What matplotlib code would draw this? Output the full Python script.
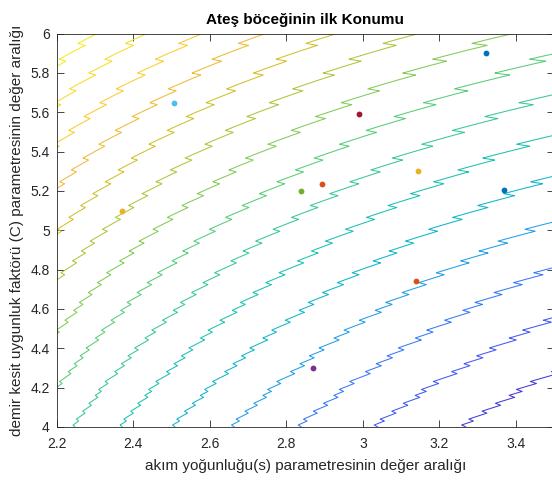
import numpy as np
import matplotlib.pyplot as plt
from matplotlib.colors import LinearSegmentedColormap, Normalize
from matplotlib.ticker import FormatStrFormatter

plt.rcParams['font.family'] = ['Liberation Sans', 'DejaVu Sans']

# parula renk haritasi (MATLAB varsayilani)
parula_rgb = [
    (0.2422, 0.1504, 0.6603), (0.2803, 0.2782, 0.9221), (0.2440, 0.4358, 0.9988),
    (0.1380, 0.6276, 0.8973), (0.0433, 0.7411, 0.7394), (0.1938, 0.7758, 0.6251),
    (0.3406, 0.8008, 0.4789), (0.5616, 0.7942, 0.3045), (0.7738, 0.7598, 0.1646),
    (0.9393, 0.7288, 0.2100), (0.9892, 0.8136, 0.1885), (0.9610, 0.8890, 0.1537),
    (0.9769, 0.9839, 0.0805),
]
parula = LinearSegmentedColormap.from_list('parula', parula_rgb)

# MATLAB varsayilan renk sirasi
renkler = ['#0072BD', '#D95319', '#EDB120', '#7E2F8E', '#77AC30', '#4DBEEE', '#A2142F']

# parametre araliklari
s_aralik = [2.2, 3.5]
c_aralik = [4.0, 6.0]

# ates boceklerinin ilk konumlari
s_konum = [3.323, 2.893, 3.143, 2.869, 2.839, 2.507, 2.991, 3.370, 3.140, 2.370]
c_konum = [5.899, 5.237, 5.302, 4.298, 5.199, 5.645, 5.591, 5.207, 4.742, 5.096]

# kontur seviyeleri
seviyeler = [82.6, 87.0, 91.4, 95.8, 100.2, 104.6, 109.0, 113.4,
             117.8, 122.2, 126.6, 131.0, 135.4, 139.8, 144.2]


def amac(s, C):
    # sarim sayisi tam sayiya yuvarlandigi icin testere disi bilesen
    sarim = 440.0 / C
    testere = (sarim - np.floor(sarim)) - 0.5
    return C ** 2.3 + 190.0 / s - 0.03 * C ** 2 * testere


s = np.linspace(s_aralik[0], s_aralik[1], 150)
c = np.linspace(c_aralik[0], c_aralik[1], 200)
S, CC = np.meshgrid(s, c)
Z = amac(S, CC)

fig = plt.figure(figsize=(5.52, 4.83), dpi=100)
ax = fig.add_axes([56.7 / 552, 56 / 483, 497.5 / 552, 393.5 / 483])

ax.contour(S, CC, Z, levels=seviyeler, cmap=parula,
           norm=Normalize(Z.min(), Z.max()), linewidths=0.75)

for i in range(len(s_konum)):
    ax.plot(s_konum[i], c_konum[i], 'o', color=renkler[i % 7],
            markersize=4.2, markeredgewidth=0)

ax.set_xlim(s_aralik)
ax.set_ylim(c_aralik)
ax.set_xticks(np.arange(2.2, 3.41, 0.2))
ax.set_yticks(np.arange(4.0, 6.01, 0.2))
ax.xaxis.set_major_formatter(FormatStrFormatter('%g'))
ax.yaxis.set_major_formatter(FormatStrFormatter('%g'))
ax.tick_params(direction='in', top=True, right=True, length=5, width=0.6,
               colors='#262626', labelsize=10, pad=5)
ax.tick_params(axis='x', pad=7)
for sp in ax.spines.values():
    sp.set_color('#262626')
    sp.set_linewidth(0.6)

ax.set_title('Ateş böceğinin ilk Konumu', fontsize=11, fontweight='bold', pad=7)
ax.set_xlabel('akım yoğunluğu(s) parametresinin değer aralığı', fontsize=11,
              color='#262626')
ax.set_ylabel('demir kesit uygunluk faktörü (C) parametresinin değer aralığı',
              fontsize=11, color='#262626')
ax.xaxis.set_label_coords(0.5, -0.082)
ax.yaxis.set_label_coords(-0.066, 0.5)

fig.savefig('out.png', dpi=100)
